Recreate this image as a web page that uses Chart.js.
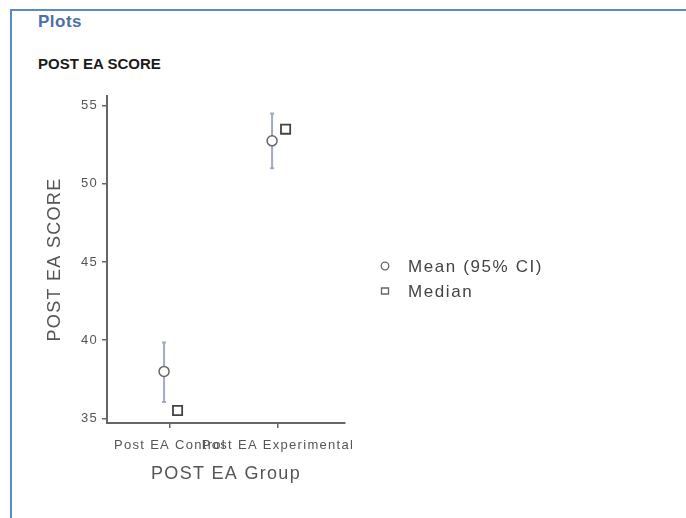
<!DOCTYPE html>
<html>
<head>
<meta charset="utf-8">
<title>POST EA SCORE</title>
<script src="https://cdn.jsdelivr.net/npm/chart.js@4.4.1/dist/chart.umd.min.js"></script>
<style>
  html, body { margin: 0; padding: 0; background: #ffffff; }
  body { width: 686px; height: 518px; position: relative; overflow: hidden; }
  .frame {
    position: absolute; left: 10px; top: 9px; right: -4px; bottom: -4px;
    border-left: 2px solid #5b8bc7; border-top: 2px solid #5b8bc7;
  }
  .heading {
    position: absolute; left: 38px; top: 12px;
    font: bold 17px "Liberation Sans", Arial, sans-serif; color: #4a70a8;
    letter-spacing: 0.5px;
  }
  .subheading {
    position: absolute; left: 38px; top: 55px;
    font: bold 15px "Liberation Sans", Arial, sans-serif; color: #1a1a1a;
    letter-spacing: 0px;
  }
  #chart { position: absolute; left: 0; top: 0; }
</style>
</head>
<body>
<div class="frame"></div>
<div class="heading">Plots</div>
<div class="subheading">POST EA SCORE</div>
<canvas id="chart" width="686" height="518"></canvas>
<script>
// Group labels and summary statistics of POST EA SCORE
const groups = ['Post EA Control', 'Post EA Experimental'];
const meanValues = [38.0, 52.75];
const ciLower = [36.05, 51.0];
const ciUpper = [39.85, 54.5];
const medianValues = [35.5, 53.5];
const yTicks = [35, 40, 45, 50, 55];

// horizontal dodge so mean and median sit side by side
const MEAN_DODGE = -0.055;
const MEDIAN_DODGE = 0.07;

const TEXT_SPACING = '1.3px';

const meanPoints = meanValues.map((v, i) => ({ x: i + 1 + MEAN_DODGE, y: v }));
const medianPoints = medianValues.map((v, i) => ({ x: i + 1 + MEDIAN_DODGE, y: v }));

// widen glyph spacing for all canvas text
const spacingPlugin = {
  id: 'spacing',
  beforeDraw(chart) { chart.ctx.letterSpacing = TEXT_SPACING; }
};

// vertical 95% CI whiskers behind the mean markers
const ciPlugin = {
  id: 'ciBars',
  beforeDatasetsDraw(chart) {
    const { ctx, scales: { x, y } } = chart;
    ctx.save();
    ctx.strokeStyle = '#9eabc4';
    ctx.lineWidth = 2;
    ciLower.forEach((lo, i) => {
      const px = x.getPixelForValue(i + 1 + MEAN_DODGE);
      const yTop = y.getPixelForValue(ciUpper[i]);
      const yBot = y.getPixelForValue(lo);
      ctx.beginPath();
      ctx.moveTo(px, yTop);
      ctx.lineTo(px, yBot);
      ctx.moveTo(px - 2, yTop);
      ctx.lineTo(px + 2, yTop);
      ctx.moveTo(px - 2, yBot);
      ctx.lineTo(px + 2, yBot);
      ctx.stroke();
    });
    ctx.restore();
  }
};

// legend to the right of the plot area
const sideLegend = {
  id: 'sideLegend',
  afterDraw(chart) {
    const { ctx, chartArea } = chart;
    const mx = chartArea.right + 40;
    const tx = chartArea.right + 63;
    const rows = [
      { label: 'Mean (95% CI)', shape: 'circle', y: 266 },
      { label: 'Median', shape: 'rect', y: 291 }
    ];
    ctx.save();
    ctx.letterSpacing = '1.6px';
    ctx.font = '17px "Liberation Sans", Arial, sans-serif';
    ctx.textBaseline = 'middle';
    ctx.textAlign = 'left';
    rows.forEach(r => {
      ctx.strokeStyle = '#666666';
      ctx.lineWidth = 1.3;
      ctx.fillStyle = '#ffffff';
      ctx.beginPath();
      if (r.shape === 'circle') {
        ctx.arc(mx, r.y, 3.8, 0, Math.PI * 2);
      } else {
        ctx.rect(mx - 3.5, r.y - 3, 7, 6);
      }
      ctx.fill();
      ctx.stroke();
      ctx.fillStyle = '#444444';
      ctx.fillText(r.label, tx, r.y + 1);
    });
    ctx.restore();
  }
};

new Chart(document.getElementById('chart'), {
  type: 'scatter',
  data: {
    datasets: [
      {
        label: 'Mean (95% CI)',
        data: meanPoints,
        pointStyle: 'circle',
        pointRadius: 5,
        pointHoverRadius: 5,
        pointBackgroundColor: '#ffffff',
        pointBorderColor: '#666666',
        pointBorderWidth: 1.5
      },
      {
        label: 'Median',
        data: medianPoints,
        pointStyle: 'rect',
        pointRadius: 6.5,
        pointHoverRadius: 6.5,
        pointBackgroundColor: '#ffffff',
        pointBorderColor: '#444444',
        pointBorderWidth: 1.8
      }
    ]
  },
  options: {
    responsive: false,
    animation: false,
    events: [],
    layout: { padding: { left: 0, top: 96, right: 341, bottom: 25 } },
    plugins: {
      legend: { display: false },
      tooltip: { enabled: false }
    },
    scales: {
      x: {
        type: 'linear',
        min: 0.4167,
        max: 2.62,
        afterBuildTicks(scale) { scale.ticks = groups.map((g, i) => ({ value: i + 1 })); },
        afterFit(scale) { scale.height = 70; },
        ticks: {
          autoSkip: false,
          maxRotation: 0,
          padding: 10,
          color: '#555555',
          font: { family: '"Liberation Sans", Arial, sans-serif', size: 13 },
          callback: (v) => groups[Math.round(v) - 1] || ''
        },
        grid: { drawOnChartArea: false, color: '#666666', lineWidth: 1.5, tickLength: 5 },
        border: { color: '#666666', width: 2 },
        title: {
          display: true,
          text: 'POST EA Group',
          color: '#555555',
          font: { family: '"Liberation Sans", Arial, sans-serif', size: 18 },
          padding: { top: 0, bottom: 8 }
        }
      },
      y: {
        type: 'linear',
        min: 34.70,
        max: 55.62,
        afterBuildTicks(scale) { scale.ticks = yTicks.map(v => ({ value: v })); },
        afterFit(scale) { scale.width = 107; },
        ticks: {
          padding: 4,
          color: '#555555',
          font: { family: '"Liberation Sans", Arial, sans-serif', size: 13 }
        },
        grid: { drawOnChartArea: false, color: '#666666', lineWidth: 1.5, tickLength: 5 },
        border: { color: '#666666', width: 2 },
        title: {
          display: true,
          text: 'POST EA SCORE',
          color: '#555555',
          font: { family: '"Liberation Sans", Arial, sans-serif', size: 18 },
          padding: { top: 44, bottom: 0 }
        }
      }
    }
  },
  plugins: [spacingPlugin, ciPlugin, sideLegend]
});
</script>
</body>
</html>
